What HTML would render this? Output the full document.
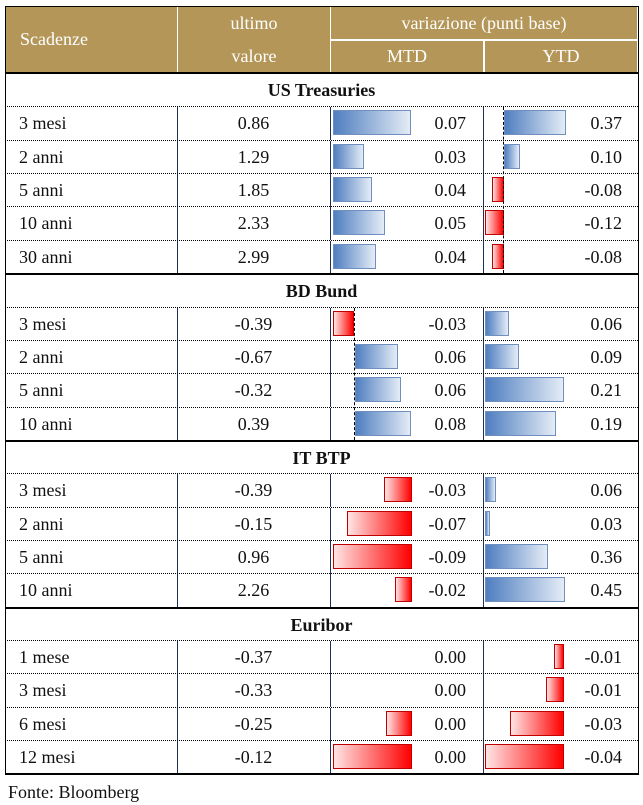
<!DOCTYPE html>
<html><head><meta charset="utf-8"><style>
body{margin:0;width:643px;height:805px;background:#fff;position:relative;font-family:"Liberation Serif",serif;font-size:18px;color:#111;overflow:hidden}
.a{position:absolute}
.hd{position:absolute;background:#b39658;color:#fff;text-align:center}
.row{position:absolute;left:5px;width:633px;height:33px;line-height:33px;border-top:1px dotted #000}
.sec{position:absolute;left:5px;width:633px;height:33px;line-height:33px;text-align:center;font-weight:bold;border-top:2px solid #000}
.row .l{position:absolute;left:14px}
.row .v{position:absolute;left:172px;width:153px;text-align:center}
.row .m{position:absolute;left:325px;width:136px;text-align:right}
.row .y{position:absolute;left:478px;width:139px;text-align:right}
.row .c1,.row .c2,.row .c3{position:absolute;top:0;bottom:0;width:1px;background:#1f3050}
.c1{left:172px}.c2{left:325px}.c3{left:478px}
.b{position:absolute;top:3px;height:25px;box-sizing:border-box;border:1.5px solid #6f8fbf;background:linear-gradient(to right,#4f7ec0,#e4ecf6)}
.n{position:absolute;top:3px;height:25px;box-sizing:border-box;border:1.5px solid #c00000;background:linear-gradient(to right,#ffe4e4,#ff0000)}
.ax{position:absolute;width:0;border-left:1.5px dashed #000}
</style></head><body>
<div class="a" style="left:5px;top:6px;width:632px;height:767px;border:1px solid #000"></div>
<div class="hd" style="left:6px;top:7px;width:171px;height:65px;line-height:65px;text-align:left;padding-left:14px;box-sizing:border-box">Scadenze</div>
<div class="hd" style="left:178px;top:7px;width:152px;height:33px;line-height:33px">ultimo</div>
<div class="hd" style="left:178px;top:40px;width:152px;height:32px;line-height:32px">valore</div>
<div class="hd" style="left:331px;top:7px;width:306px;height:32px;line-height:32px">variazione (punti base)</div>
<div class="hd" style="left:331px;top:41px;width:152px;height:31px;line-height:31px">MTD</div>
<div class="hd" style="left:485px;top:41px;width:152px;height:31px;line-height:31px">YTD</div>
<div class="a" style="left:177px;top:7px;width:1px;height:65px;background:#fff"></div>
<div class="a" style="left:483px;top:40px;width:1px;height:32px;background:#fff"></div>

<div class="sec" style="top:72px">US Treasuries</div>
<div class="row" style="top:106px"><i class="c1"></i><i class="c2"></i><i class="c3"></i><div class="b" style="left:328px;width:78px"></div><div class="b" style="left:499px;width:62px"></div><span class="l">3 mesi</span><span class="v">0.86</span><span class="m">0.07</span><span class="y">0.37</span></div>
<div class="row" style="top:140px"><i class="c1"></i><i class="c2"></i><i class="c3"></i><div class="b" style="left:328px;width:31px"></div><div class="b" style="left:499px;width:16px"></div><span class="l">2 anni</span><span class="v">1.29</span><span class="m">0.03</span><span class="y">0.10</span></div>
<div class="row" style="top:173px"><i class="c1"></i><i class="c2"></i><i class="c3"></i><div class="b" style="left:328px;width:39px"></div><div class="n" style="left:487px;width:12px"></div><span class="l">5 anni</span><span class="v">1.85</span><span class="m">0.04</span><span class="y">-0.08</span></div>
<div class="row" style="top:206px"><i class="c1"></i><i class="c2"></i><i class="c3"></i><div class="b" style="left:328px;width:52px"></div><div class="n" style="left:480px;width:19px"></div><span class="l">10 anni</span><span class="v">2.33</span><span class="m">0.05</span><span class="y">-0.12</span></div>
<div class="row" style="top:240px"><i class="c1"></i><i class="c2"></i><i class="c3"></i><div class="b" style="left:328px;width:43px"></div><div class="n" style="left:487px;width:12px"></div><span class="l">30 anni</span><span class="v">2.99</span><span class="m">0.04</span><span class="y">-0.08</span></div>
<div class="ax" style="left:503px;top:107px;height:166px"></div>

<div class="sec" style="top:273px">BD Bund</div>
<div class="row" style="top:307px"><i class="c1"></i><i class="c2"></i><i class="c3"></i><div class="n" style="left:328px;width:21px"></div><div class="b" style="left:480px;width:24px"></div><span class="l">3 mesi</span><span class="v">-0.39</span><span class="m">-0.03</span><span class="y">0.06</span></div>
<div class="row" style="top:340px"><i class="c1"></i><i class="c2"></i><i class="c3"></i><div class="b" style="left:350px;width:43px"></div><div class="b" style="left:480px;width:34px"></div><span class="l">2 anni</span><span class="v">-0.67</span><span class="m">0.06</span><span class="y">0.09</span></div>
<div class="row" style="top:373px"><i class="c1"></i><i class="c2"></i><i class="c3"></i><div class="b" style="left:350px;width:46px"></div><div class="b" style="left:480px;width:79px"></div><span class="l">5 anni</span><span class="v">-0.32</span><span class="m">0.06</span><span class="y">0.21</span></div>
<div class="row" style="top:407px"><i class="c1"></i><i class="c2"></i><i class="c3"></i><div class="b" style="left:350px;width:56px"></div><div class="b" style="left:480px;width:71px"></div><span class="l">10 anni</span><span class="v">0.39</span><span class="m">0.08</span><span class="y">0.19</span></div>
<div class="ax" style="left:354px;top:308px;height:132px"></div>

<div class="sec" style="top:440px">IT BTP</div>
<div class="row" style="top:473px"><i class="c1"></i><i class="c2"></i><i class="c3"></i><div class="n" style="left:379px;width:28px"></div><div class="b" style="left:480px;width:11px"></div><span class="l">3 mesi</span><span class="v">-0.39</span><span class="m">-0.03</span><span class="y">0.06</span></div>
<div class="row" style="top:507px"><i class="c1"></i><i class="c2"></i><i class="c3"></i><div class="n" style="left:342px;width:65px"></div><div class="b" style="left:480px;width:5px"></div><span class="l">2 anni</span><span class="v">-0.15</span><span class="m">-0.07</span><span class="y">0.03</span></div>
<div class="row" style="top:540px"><i class="c1"></i><i class="c2"></i><i class="c3"></i><div class="n" style="left:328px;width:79px"></div><div class="b" style="left:480px;width:63px"></div><span class="l">5 anni</span><span class="v">0.96</span><span class="m">-0.09</span><span class="y">0.36</span></div>
<div class="row" style="top:573px"><i class="c1"></i><i class="c2"></i><i class="c3"></i><div class="n" style="left:390px;width:17px"></div><div class="b" style="left:480px;width:80px"></div><span class="l">10 anni</span><span class="v">2.26</span><span class="m">-0.02</span><span class="y">0.45</span></div>

<div class="sec" style="top:607px">Euribor</div>
<div class="row" style="top:640px"><i class="c1"></i><i class="c2"></i><i class="c3"></i><div class="n" style="left:549px;width:10px"></div><span class="l">1 mese</span><span class="v">-0.37</span><span class="m">0.00</span><span class="y">-0.01</span></div>
<div class="row" style="top:673px"><i class="c1"></i><i class="c2"></i><i class="c3"></i><div class="n" style="left:541px;width:18px"></div><span class="l">3 mesi</span><span class="v">-0.33</span><span class="m">0.00</span><span class="y">-0.01</span></div>
<div class="row" style="top:707px"><i class="c1"></i><i class="c2"></i><i class="c3"></i><div class="n" style="left:381px;width:26px"></div><div class="n" style="left:505px;width:54px"></div><span class="l">6 mesi</span><span class="v">-0.25</span><span class="m">0.00</span><span class="y">-0.03</span></div>
<div class="row" style="top:740px"><i class="c1"></i><i class="c2"></i><i class="c3"></i><div class="n" style="left:328px;width:79px"></div><div class="n" style="left:480px;width:79px"></div><span class="l">12 mesi</span><span class="v">-0.12</span><span class="m">0.00</span><span class="y">-0.04</span></div>
<div class="a" style="left:5px;top:773px;width:634px;height:2px;background:#000"></div>
<div class="a" style="left:8px;top:781px;line-height:22px">Fonte: Bloomberg</div>
</body></html>
